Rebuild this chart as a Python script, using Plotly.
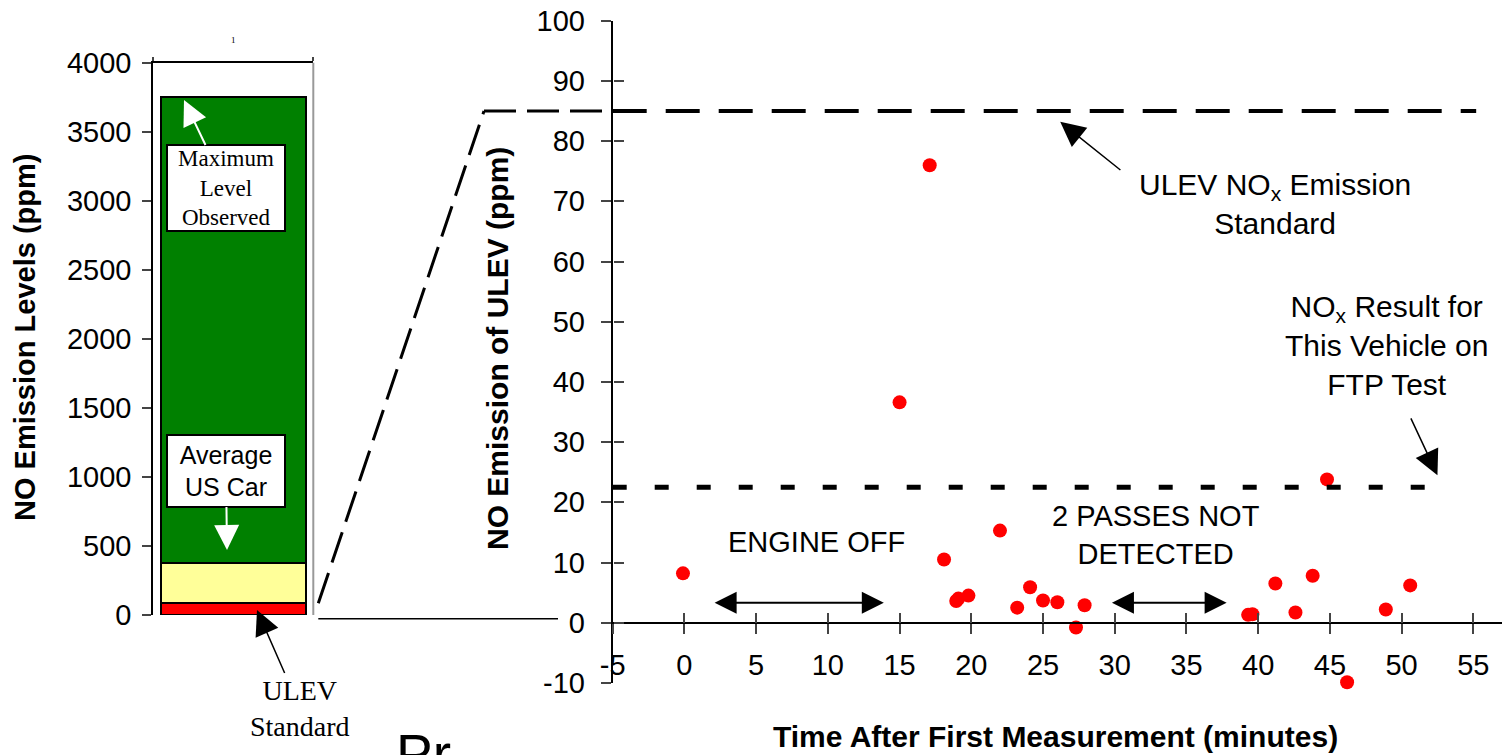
import plotly.graph_objects as go

# ---------------- data ----------------
bar_category = ["1"]
segment_names = ["ULEV Standard", "Average US Car", "Maximum Level Observed"]
segment_heights = [88, 292, 3375]          # stacked: 0-88, 88-380, 380-3755 ppm
segment_colors = ["#FF0000", "#FFFF99", "#008000"]

time_min = [-0.1, 15.0, 17.1, 18.1, 18.95, 19.1, 19.8, 22.0, 23.2, 24.1, 25.0, 26.0,
            27.3, 27.9, 39.3, 39.6, 41.2, 42.6, 43.8, 44.8, 46.2, 48.9, 50.6]
no_ppm = [8.2, 36.6, 76.0, 10.5, 3.6, 4.0, 4.5, 15.3, 2.5, 5.9, 3.7, 3.4,
          -0.8, 2.9, 1.3, 1.4, 6.5, 1.7, 7.8, 23.8, -9.9, 2.2, 6.2]

ulev_standard = 85        # ppm
ftp_result = 22.5         # ppm
ulev_line_x = [-5, 55.2]
ftp_line_x = [-5, 53.3]

left_y_ticks = list(range(0, 4001, 500))
right_x_ticks = list(range(-5, 56, 5))
right_y_ticks = list(range(-10, 101, 10))
right_x_labels = [str(v) for v in right_x_ticks]
right_y_labels = [str(v) for v in right_y_ticks]

# ---------------- geometry ----------------
W, H = 1502, 755
def px(x):
    return x / W
def py(y):
    return 1 - y / H

LEFT_X0, LEFT_X1 = 153.3, 313.3
LEFT_Y_TOP, LEFT_Y_BOT = 62.7, 615.0
LEFT_RANGE = [0, 4000]
RIGHT_X0, RIGHT_X1 = 612.7, 1502
RIGHT_Y_TOP, RIGHT_Y_BOT = 20.7, 682.9
RX_RANGE = [-5, 57]
RY_RANGE = [-10, 100]

def left_ypix(v):
    return LEFT_Y_BOT - (v - LEFT_RANGE[0]) / (LEFT_RANGE[1] - LEFT_RANGE[0]) * (LEFT_Y_BOT - LEFT_Y_TOP)

def right_ypix(v):
    return RIGHT_Y_BOT - (v - RY_RANGE[0]) / (RY_RANGE[1] - RY_RANGE[0]) * (RIGHT_Y_BOT - RIGHT_Y_TOP)

ry_dom = [py(RIGHT_Y_BOT), py(RIGHT_Y_TOP)]
x2_position = ry_dom[0] + (0 - RY_RANGE[0]) / (RY_RANGE[1] - RY_RANGE[0]) * (ry_dom[1] - ry_dom[0])

SANS = "Liberation Sans, Arial, sans-serif"
SERIF = "Liberation Serif, Times New Roman, serif"

fig = go.Figure()

# left stacked bar
for name, h, c in zip(segment_names, segment_heights, segment_colors):
    fig.add_trace(go.Bar(x=bar_category, y=[h], name=name, width=0.91,
                         marker=dict(color=c, line=dict(color="black", width=2)),
                         xaxis="x", yaxis="y", showlegend=False))

# right scatter
fig.add_trace(go.Scatter(x=time_min, y=no_ppm, mode="markers",
                         marker=dict(color="#FF0000", size=14, line=dict(width=0)),
                         xaxis="x2", yaxis="y2", cliponaxis=False, showlegend=False))
fig.add_trace(go.Scatter(x=ulev_line_x, y=[ulev_standard] * 2, mode="lines",
                         line=dict(color="black", width=4, dash="34px,19px"),
                         xaxis="x2", yaxis="y2", showlegend=False))
fig.add_trace(go.Scatter(x=ftp_line_x, y=[ftp_result] * 2, mode="lines",
                         line=dict(color="black", width=5, dash="14px,28px"),
                         xaxis="x2", yaxis="y2", showlegend=False))
# invisible trace for crossing-tick overlay axes
fig.add_trace(go.Scatter(x=[None], y=[None], xaxis="x3", yaxis="y3",
                         showlegend=False, hoverinfo="skip"))

tickfont = dict(family=SANS, size=29, color="black")

fig.update_layout(
    width=W, height=H, autosize=False,
    margin=dict(l=0, r=0, t=0, b=0, pad=0, autoexpand=False),
    paper_bgcolor="white", plot_bgcolor="white",
    barmode="stack", showlegend=False,
    xaxis=dict(domain=[px(LEFT_X0), px(LEFT_X1)], type="category", range=[-0.5, 0.5],
               anchor="y", side="top", showline=True, linecolor="black", linewidth=2,
               ticks="outside", ticklen=4, tickwidth=1.5, tickson="boundaries",
               tickfont=dict(family=SERIF, size=9, color="black"), ticklabelstandoff=14,
               showgrid=False, zeroline=False, automargin=False),
    yaxis=dict(domain=[py(LEFT_Y_BOT), py(LEFT_Y_TOP)], range=LEFT_RANGE, anchor="x",
               tickvals=left_y_ticks, ticks="outside", ticklen=9, tickwidth=2,
               showline=True, linecolor="black", linewidth=2, tickfont=tickfont,
               ticklabelstandoff=5, showgrid=False, zeroline=False, automargin=False),
    xaxis2=dict(domain=[px(RIGHT_X0), px(RIGHT_X1)], range=RX_RANGE, anchor="free",
                position=x2_position, tickvals=right_x_ticks, ticktext=right_x_labels,
                ticks="outside", ticklen=10,
                tickwidth=2, showline=True, linecolor="black", linewidth=2,
                tickfont=tickfont, ticklabelstandoff=6, showgrid=False, zeroline=False,
                automargin=False),
    yaxis2=dict(domain=ry_dom, range=RY_RANGE, anchor="x2", tickvals=right_y_ticks,
                ticktext=right_y_labels,
                ticks="outside", ticklen=10, tickwidth=2, showline=True, linecolor="black",
                linewidth=2, tickfont=tickfont, ticklabelstandoff=10,
                showgrid=False, zeroline=False, automargin=False),
    xaxis3=dict(overlaying="x2", range=RX_RANGE, anchor="free", position=x2_position,
                tickvals=right_x_ticks, ticks="inside", ticklen=10, tickwidth=2,
                showticklabels=False, showline=False, showgrid=False, zeroline=False),
    yaxis3=dict(overlaying="y2", range=RY_RANGE, anchor="free", position=px(RIGHT_X0),
                tickvals=right_y_ticks, ticks="inside", ticklen=10, tickwidth=2,
                showticklabels=False, showline=False, showgrid=False, zeroline=False),
)

# ---------------- shapes: frame + connector ----------------
y_ulev_left = left_ypix(ulev_standard)
y_ulev_right = right_ypix(ulev_standard)
CONN_START_X = LEFT_X1 + 5
CONN_BEND_X = 484
shapes = [
    # gray right border of left panel
    dict(type="line", xref="paper", yref="paper", x0=px(LEFT_X1), x1=px(LEFT_X1),
         y0=py(LEFT_Y_BOT), y1=py(LEFT_Y_TOP), line=dict(color="#999999", width=2)),
    # dashed zoom connector
    dict(type="line", xref="paper", yref="paper", x0=px(CONN_START_X), y0=py(y_ulev_left),
         x1=px(CONN_BEND_X), y1=py(y_ulev_right), line=dict(color="black", width=3, dash="32px,11px")),
    dict(type="line", xref="paper", yref="paper", x0=px(CONN_BEND_X), y0=py(y_ulev_right),
         x1=px(RIGHT_X0 - 2), y1=py(y_ulev_right), line=dict(color="black", width=3, dash="32px,11px")),
    # thin zero connector
    dict(type="line", xref="paper", yref="paper", x0=px(CONN_START_X),
         y0=py((left_ypix(0) + right_ypix(0)) / 2), x1=px(558),
         y1=py((left_ypix(0) + right_ypix(0)) / 2), line=dict(color="black", width=1.5)),
]
fig.update_layout(shapes=shapes)

# ---------------- annotations ----------------
ann = []
# axis titles
ann.append(dict(text="<b>NO Emission Levels (ppm)</b>", xref="paper", yref="paper",
                x=px(25), y=py(338), textangle=-90, showarrow=False,
                xanchor="center", yanchor="middle", font=dict(family=SANS, size=29, color="black")))
ann.append(dict(text="<b>NO Emission of ULEV (ppm)</b>", xref="paper", yref="paper",
                x=px(497), y=py(349), textangle=-90, showarrow=False,
                xanchor="center", yanchor="middle", font=dict(family=SANS, size=30, color="black")))
ann.append(dict(text="<b>Time After First Measurement (minutes)</b>", xref="paper", yref="paper",
                x=px(1055), y=py(736), showarrow=False,
                xanchor="center", yanchor="middle", font=dict(family=SANS, size=30, color="black")))

# left panel labels
ann.append(dict(text="Maximum<br>Level<br>Observed", xref="paper", yref="paper",
                x=px(184), y=py(100), ax=42, ay=88, axref="pixel", ayref="pixel",
                showarrow=True, arrowhead=2, arrowsize=2.5, arrowwidth=2, arrowcolor="white",
                font=dict(family=SERIF, size=23, color="black"),
                bgcolor="white", bordercolor="black", borderwidth=2, borderpad=2,
                width=112, height=80, align="center"))
ann.append(dict(text="Average<br>US Car", xref="paper", yref="paper",
                x=px(227), y=py(550), ax=-1, ay=-79, axref="pixel", ayref="pixel",
                showarrow=True, arrowhead=2, arrowsize=2.5, arrowwidth=2, arrowcolor="white",
                font=dict(family=SANS, size=25, color="black"),
                bgcolor="white", bordercolor="black", borderwidth=2, borderpad=2,
                width=112, height=66, align="center"))
ann.append(dict(text="ULEV<br>Standard", xref="paper", yref="paper",
                x=px(257), y=py(610), ax=43, ay=98, axref="pixel", ayref="pixel",
                showarrow=True, arrowhead=2, arrowsize=3.3, arrowwidth=1.5, arrowcolor="black",
                font=dict(family=SERIF, size=28, color="black"), align="center"))

# right panel labels
ann.append(dict(text="ENGINE OFF", xref="x2", yref="y2", x=9.2, y=13.4, showarrow=False,
                xanchor="center", yanchor="middle", font=dict(family=SANS, size=29, color="black")))
ann.append(dict(text="", xref="x2", yref="y2", x=13.9, y=3.3, ax=2.0, ay=3.3,
                axref="x2", ayref="y2", showarrow=True, arrowside="end+start",
                arrowhead=2, startarrowhead=2, arrowsize=2.2, startarrowsize=2.2,
                arrowwidth=2, arrowcolor="black", standoff=0, startstandoff=0))
ann.append(dict(text="2 PASSES NOT<br>DETECTED", xref="x2", yref="y2", x=32.9, y=14.65,
                showarrow=False, xanchor="center", yanchor="middle",
                font=dict(family=SANS, size=29, color="black")))
ann.append(dict(text="", xref="x2", yref="y2", x=37.8, y=3.3, ax=29.7, ay=3.3,
                axref="x2", ayref="y2", showarrow=True, arrowside="end+start",
                arrowhead=2, startarrowhead=2, arrowsize=2.2, startarrowsize=2.2,
                arrowwidth=2, arrowcolor="black", standoff=0, startstandoff=0))
ann.append(dict(text="ULEV NO<sub>x</sub> Emission<br>Standard", xref="x2", yref="y2",
                x=41.2, y=69.5, showarrow=False, xanchor="center", yanchor="middle",
                font=dict(family=SANS, size=30, color="black")))
ann.append(dict(text="", xref="x2", yref="y2", x=26.2, y=83.2, ax=30.5, ay=75.0,
                axref="x2", ayref="y2", showarrow=True, arrowhead=2, arrowsize=3.3,
                arrowwidth=1.5, arrowcolor="black", standoff=0))
ann.append(dict(text="NO<sub>x</sub> Result for<br>This Vehicle on<br>FTP Test", xref="x2", yref="y2",
                x=48.95, y=46.1, showarrow=False, xanchor="center", yanchor="middle",
                font=dict(family=SANS, size=30, color="black")))
ann.append(dict(text="", xref="x2", yref="y2", x=52.5, y=24.5, ax=50.6, ay=34.2,
                axref="x2", ayref="y2", showarrow=True, arrowhead=2, arrowsize=3.3,
                arrowwidth=1.5, arrowcolor="black", standoff=0))

# partially visible text at bottom
ann.append(dict(text="Pr", xref="paper", yref="paper", x=px(394), y=py(721),
                xanchor="left", yanchor="top", showarrow=False,
                font=dict(family=SANS, size=55, color="black")))

fig.update_layout(annotations=ann)

fig.write_html("out.html", config={"displayModeBar": False},
               post_script="document.body.style.margin='0';document.body.style.overflow='hidden';")
